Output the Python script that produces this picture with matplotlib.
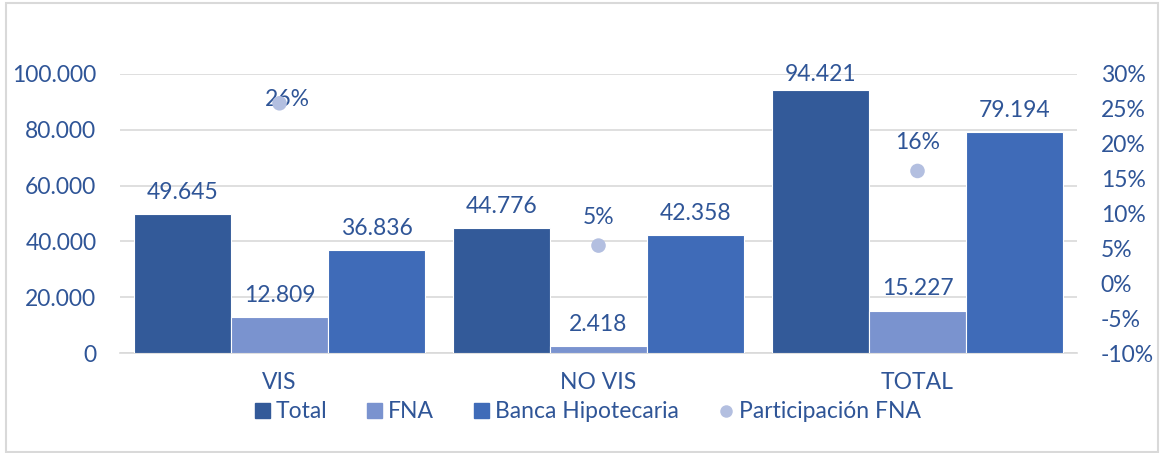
import matplotlib
matplotlib.use("Agg")
import matplotlib.pyplot as plt
from matplotlib.patches import Rectangle
from matplotlib.lines import Line2D
from matplotlib.patches import Patch
import numpy as np

categories = ["VIS", "NO VIS", "TOTAL"]
total = [49645, 44776, 94421]
fna = [12809, 2418, 15227]
banca = [36836, 42358, 79194]
participacion = [0.258, 0.054, 0.161]
participacion_labels = ["26%", "5%", "16%"]
left_ticks = [0, 20000, 40000, 60000, 80000, 100000]
left_tick_labels = ["0", "20.000", "40.000", "60.000", "80.000", "100.000"]
right_ticks = [-0.10, -0.05, 0.0, 0.05, 0.10, 0.15, 0.20, 0.25, 0.30]
right_tick_labels = ["-10%", "-5%", "0%", "5%", "10%", "15%", "20%", "25%", "30%"]

c_total = "#335A99"
c_fna = "#7A93CF"
c_banca = "#3F6BB8"
c_dot = "#B3BFE0"
c_text = "#2F5597"
c_grid = "#D9D9D9"

plt.rcParams['font.family'] = ['Lato', 'DejaVu Sans']

W, H = 1161, 453
fig = plt.figure(figsize=(W/100, H/100), dpi=100)
ax = fig.add_axes([120/W, 1 - 353/H, (1077-120)/W, (353-74)/H])

x = np.arange(len(categories))
bw = 0.305
fs = 16.5

b1 = ax.bar(x - bw, total, bw, color=c_total, edgecolor="white", linewidth=0.8, zorder=3)
b2 = ax.bar(x, fna, bw, color=c_fna, edgecolor="white", linewidth=0.8, zorder=3)
b3 = ax.bar(x + bw, banca, bw, color=c_banca, edgecolor="white", linewidth=0.8, zorder=3)

for bars, vals in ((b1, total), (b2, fna), (b3, banca)):
    for rect, v in zip(bars, vals):
        off = 3 if v > 90000 else 8
        ax.annotate(f"{v:,}".replace(",", "."), (rect.get_x() + rect.get_width()/2, v),
                    xytext=(0, off), textcoords="offset points", ha="center", va="bottom",
                    fontsize=fs, color=c_text, zorder=5)

ax.set_xlim(-0.5, 2.5)
ax.set_ylim(0, 100000)
ax.set_yticks(left_ticks)
ax.set_yticklabels(left_tick_labels)
ax.set_xticks(x)
ax.set_xticklabels(categories)
ax.tick_params(axis="y", length=0, labelsize=fs, labelcolor=c_text, pad=17)
ax.tick_params(axis="x", length=0, labelsize=fs, labelcolor=c_text, pad=14)
ax.grid(axis="y", color=c_grid, linewidth=1.2, zorder=0)
for s in ["top", "right", "left"]:
    ax.spines[s].set_visible(False)
ax.spines["bottom"].set_color(c_grid)
ax.spines["bottom"].set_linewidth(1.2)

ax2 = ax.twinx()
ax2.set_ylim(-0.10, 0.30)
ax2.set_yticks(right_ticks)
ax2.set_yticklabels(right_tick_labels)
ax2.tick_params(axis="y", length=0, labelsize=fs, labelcolor=c_text, pad=17)
for s in ax2.spines.values():
    s.set_visible(False)
ax2.scatter(x, participacion, s=110, color=c_dot, zorder=4, edgecolors="none")
offsets = [(0, 0), (0, 13), (0, 13)]
for xi, p, lab, off in zip(x, participacion, participacion_labels, offsets):
    if off == (0, 0):
        ax2.annotate(lab, (xi, p), xytext=(6, 3), textcoords="offset points",
                     ha="center", va="center", fontsize=fs, color=c_text)
    else:
        ax2.annotate(lab, (xi, p), xytext=off, textcoords="offset points",
                     ha="center", va="bottom", fontsize=fs, color=c_text)

handles = [Patch(color=c_total), Patch(color=c_fna), Patch(color=c_banca),
           Line2D([], [], marker="o", linestyle="none", markersize=9,
                  markerfacecolor=c_dot, markeredgecolor="none")]
labels = ["Total", "FNA", "Banca Hipotecaria", "Participación FNA"]
leg = fig.legend(handles, labels, loc="center", bbox_to_anchor=(588/W, 1 - 412/H),
                 ncol=4, frameon=False, fontsize=fs, handlelength=0.65, handleheight=0.65,
                 handletextpad=0.25, columnspacing=1.75, labelcolor=c_text)

fig.patches.append(Rectangle((5.5/W, 1.5/H), (1158-5.5)/W, (450.5-1.5)/H,
                             transform=fig.transFigure, fill=False,
                             edgecolor="#D9D9D9", linewidth=1.5))

fig.savefig("out.png", dpi=100)
